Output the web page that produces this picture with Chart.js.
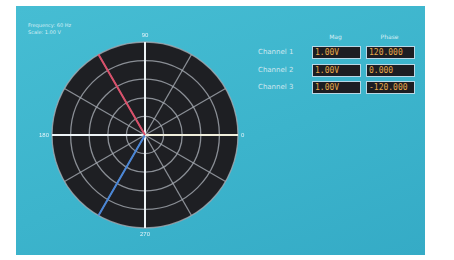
<!DOCTYPE html>
<html>
<head>
<meta charset="utf-8">
<script src="https://cdn.jsdelivr.net/npm/chart.js@4.4.0/dist/chart.umd.min.js"></script>
<style>
  body { margin: 0; width: 454px; height: 260px; background: #fff; overflow: hidden; font-family: "DejaVu Sans", sans-serif; }
  #panel { position: absolute; left: 16px; top: 6px; width: 409px; height: 249px;
    background: linear-gradient(160deg, #46bdd3 0%, #3cb4cc 55%, #35abc6 100%);
    box-shadow: -6px 0 8px rgba(255,255,255,0.9); }
  #info { position: absolute; left: 28px; top: 22px; color: #d6eef5; font-size: 5px; line-height: 7px; }
  #wrap { position: absolute; left: 36px; top: 29px; width: 212px; height: 212px; }
  .hdr { position: absolute; top: 33px; color: #d8eef4; font-size: 6px; width: 47px; text-align: center; }
  .lbl { position: absolute; left: 258px; color: #cfe7ef; font-size: 7px; width: 50px; }
  .box { position: absolute; width: 45px; height: 11px; background: #1d1e23; border: 1px solid #b9d8e6;
    color: #e6a84a; font-family: "DejaVu Sans Mono", monospace; font-size: 8px; line-height: 11px; padding-left: 2px; box-sizing: content-box; }
</style>
</head>
<body>
<div id="panel"></div>
<div id="info">Frequency: 60 Hz<br>Scale: 1.00 V</div>
<div id="wrap"><canvas id="phasor"></canvas></div>
<div id="table"></div>
<script>
// angle labels, counter-clockwise from 0 deg (chart goes clockwise from the right)
const angleLabels = ["0", "330", "300", "270", "240", "210", "180", "150", "120", "90", "60", "30"];
const channels = ["Channel 1", "Channel 2", "Channel 3"];
const magnitudes = [1.0, 1.0, 1.0];
const phases = [120, 0, -120];
const magText = ["1.00V", "1.00V", "1.00V"];
const phaseText = ["120.000", "0.000", "-120.000"];
const colors = ["#d9506a", "#f1efdc", "#4a86d6"];

// table on the right
const table = document.getElementById("table");
let html = '<div class="hdr" style="left:312px">Mag</div><div class="hdr" style="left:366px">Phase</div>';
channels.forEach((name, i) => {
  const top = 46 + i * 17.5;
  html += '<div class="lbl" style="top:' + (top + 2) + 'px">' + name + '</div>';
  html += '<div class="box" style="left:312px;top:' + top + 'px">' + magText[i] + '</div>';
  html += '<div class="box" style="left:366px;top:' + top + 'px">' + phaseText[i] + '</div>';
});
table.innerHTML = html;

// each phasor becomes a spoke of the radar at the label matching its phase
const datasets = channels.map((name, i) => {
  const a = ((phases[i] % 360) + 360) % 360;
  const idx = angleLabels.indexOf(String(a));
  const data = angleLabels.map(() => 0);
  data[idx] = magnitudes[i];
  return {
    label: name,
    data: data,
    borderColor: colors[i],
    borderWidth: 2,
    pointRadius: 0,
    fill: false
  };
});

const ctx = document.getElementById("phasor").getContext("2d");
const chart = new Chart(ctx, {
  type: "radar",
  data: { labels: angleLabels, datasets: datasets },
  options: {
    responsive: true,
    maintainAspectRatio: false,
    animation: false,
    layout: { padding: 0 },
    plugins: { legend: { display: false }, tooltip: { enabled: false } },
    scales: {
      r: {
        min: 0,
        max: 1,
        startAngle: 90,
        backgroundColor: "#1e1f23",
        ticks: { display: false, stepSize: 0.2 },
        grid: { circular: true, color: "rgba(165,170,178,0.8)", lineWidth: 1.3 },
        angleLines: {
          color: (c) => c.index % 3 === 0 ? "#eef4f7" : "rgba(165,170,178,0.8)",
          lineWidth: (c) => c.index % 3 === 0 ? 2 : 1.3
        },
        pointLabels: {
          color: "#e4f4fa",
          font: { size: 6 },
          padding: 3,
          callback: (label, index) => index % 3 === 0 ? label : ""
        }
      }
    }
  }
});
</script>
</body>
</html>
